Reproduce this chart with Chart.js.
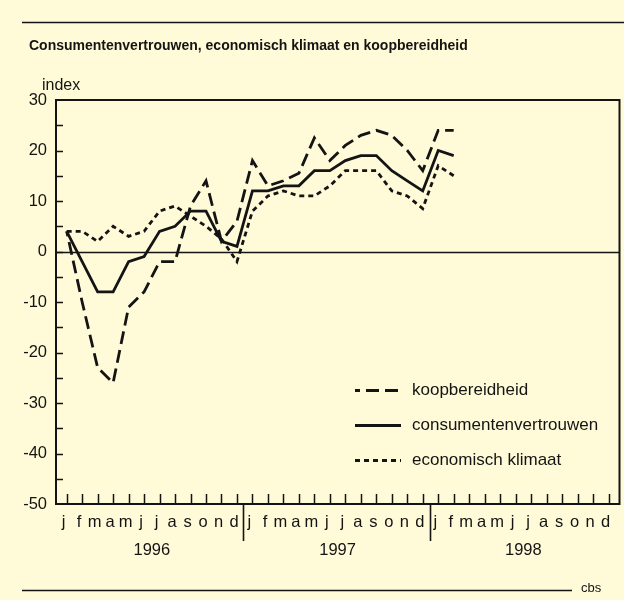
<!DOCTYPE html>
<html><head><meta charset="utf-8">
<script src="https://cdn.jsdelivr.net/npm/chart.js@4.4.1/dist/chart.umd.min.js"></script>
<style>html,body{margin:0;padding:0;background:#fffad7;}canvas{display:block;}</style>
</head><body>
<canvas id="c" width="624" height="600"></canvas>
<script>
// ---- data ----
const titleText = 'Consumentenvertrouwen, economisch klimaat en koopbereidheid';
const months = ['j','f','m','a','m','j','j','a','s','o','n','d'];
const years = ['1996','1997','1998'];
const yTicks = [30,20,10,0,-10,-20,-30,-40,-50];
const koopbereidheid = [4,-10,-23,-26,-11,-8,-2,-2,9,14,2,6,18,13,14,15.5,22.5,18,21,23,24,23,20,16,24,24];
const consumentenvertrouwen = [4,-2,-8,-8,-2,-1,4,5,8,8,2,1,12,12,13,13,16,16,18,19,19,16,14,12,20,19];
const economischKlimaat = [4,4,2,5,3,4,8,9,7,5,2.5,-2,8,11,12,11,11,13,16,16,16,12,11,8.5,17,15];

const FONT = '"Liberation Sans", Arial, Helvetica, sans-serif';
const INK = '#141414';
const BG = '#fffad7';
const monthCount = months.length * years.length;
const monthIdx = Array.from({length: monthCount}, (_, i) => i);
const toXY = arr => arr.map((v, i) => ({x: i, y: v}));

const decor = {
  id: 'decor',
  beforeDraw(chart) {
    const ctx = chart.ctx;
    ctx.save();
    ctx.fillStyle = BG;
    ctx.fillRect(0, 0, chart.width, chart.height);
    ctx.restore();
  },
  beforeDatasetsDraw(chart) {
    const {ctx, chartArea: a, scales: {y}} = chart;
    ctx.save();
    ctx.strokeStyle = INK; ctx.lineWidth = 1.6;
    const y0 = Math.round(y.getPixelForValue(0)) + 0.5;
    ctx.beginPath(); ctx.moveTo(a.left, y0); ctx.lineTo(a.right, y0); ctx.stroke();
    ctx.restore();
  },
  afterDraw(chart) {
    const {ctx, chartArea: a, scales: {x, y}} = chart;
    ctx.save();
    ctx.strokeStyle = INK; ctx.fillStyle = INK;
    // frame
    ctx.lineWidth = 2;
    ctx.strokeRect(a.left, a.top, a.right - a.left, a.bottom - a.top);
    // inward y ticks every 5
    ctx.lineWidth = 1.5;
    ctx.beginPath();
    for (let v = -45; v < 30; v += 5) {
      const py = Math.round(y.getPixelForValue(v)) + 0.5;
      ctx.moveTo(a.left, py); ctx.lineTo(a.left + 7, py);
    }
    // inward x ticks at each month
    monthIdx.forEach(i => {
      const px = Math.round(x.getPixelForValue(i)) + 0.5;
      ctx.moveTo(px, a.bottom); ctx.lineTo(px, a.bottom - 10);
    });
    ctx.stroke();
    // year separators
    ctx.lineWidth = 1.6;
    ctx.beginPath();
    [11.4, 23.5].forEach(v => {
      const px = Math.round(x.getPixelForValue(v)) + 0.5;
      ctx.moveTo(px, a.bottom); ctx.lineTo(px, a.bottom + 37);
    });
    ctx.stroke();
    // year labels
    ctx.font = '16.5px ' + FONT;
    ctx.textAlign = 'center'; ctx.textBaseline = 'alphabetic';
    years.forEach((yr, k) => {
      ctx.fillText(yr, x.getPixelForValue(k * 12 + 5.5), 555);
    });
    // title & rules
    ctx.lineWidth = 1.6;
    ctx.beginPath(); ctx.moveTo(22, 22.5); ctx.lineTo(624, 22.5); ctx.stroke();
    ctx.beginPath(); ctx.moveTo(22, 590.5); ctx.lineTo(572, 590.5); ctx.stroke();
    ctx.textAlign = 'left';
    ctx.font = 'bold 14px ' + FONT;
    ctx.fillText(titleText, 29, 50);
    ctx.font = '16px ' + FONT;
    ctx.fillText('index', 42, 90);
    ctx.font = '13px ' + FONT;
    ctx.fillText('cbs', 581, 592);
    // legend
    const legY = [390.5, 425.5, 460.5];
    chart.data.datasets.forEach((ds, k) => {
      ctx.save();
      ctx.lineWidth = ds.borderWidth;
      ctx.setLineDash(ds.borderDash || []);
      ctx.lineDashOffset = ds.borderDashOffset || 0;
      ctx.beginPath(); ctx.moveTo(355, legY[k]); ctx.lineTo(401, legY[k]); ctx.stroke();
      ctx.restore();
      ctx.font = '17px ' + FONT;
      ctx.textBaseline = 'middle';
      ctx.fillText(ds.label, 412, legY[k]);
    });
    ctx.restore();
  }
};

new Chart(document.getElementById('c'), {
  type: 'line',
  data: {
    datasets: [
      {label: 'koopbereidheid', data: toXY(koopbereidheid), borderColor: INK, borderWidth: 2.8, borderDash: [13, 6], borderDashOffset: 8, pointRadius: 0, tension: 0, fill: false},
      {label: 'consumentenvertrouwen', data: toXY(consumentenvertrouwen), borderColor: INK, borderWidth: 2.8, pointRadius: 0, tension: 0, fill: false},
      {label: 'economisch klimaat', data: toXY(economischKlimaat), borderColor: INK, borderWidth: 2.8, borderDash: [5, 4], pointRadius: 0, tension: 0, fill: false}
    ]
  },
  options: {
    responsive: false,
    animation: false,
    events: [],
    layout: {padding: {top: 100, right: 4.5, left: 0, bottom: 0}},
    plugins: {legend: {display: false}, tooltip: {enabled: false}, title: {display: false}},
    scales: {
      x: {
        type: 'linear', min: -0.69, max: 35.71,
        afterFit(s) { s.height = 96; },
        afterBuildTicks(s) { s.ticks = monthIdx.map(v => ({value: v})); },
        grid: {display: false, drawTicks: false},
        border: {display: false},
        ticks: {autoSkip: false, maxRotation: 0, minRotation: 0, labelOffset: -3, padding: 9,
          color: INK, font: {family: FONT, size: 16.5},
          callback: v => months[v % 12]}
      },
      y: {
        min: -50, max: 30,
        afterFit(s) { s.width = 56; },
        afterBuildTicks(s) { s.ticks = yTicks.map(v => ({value: v})); },
        grid: {display: false, drawTicks: false},
        border: {display: false},
        ticks: {padding: 9, color: INK, font: {family: FONT, size: 16.5}, callback: v => String(v)}
      }
    }
  },
  plugins: [decor]
});
</script>
</body></html>
